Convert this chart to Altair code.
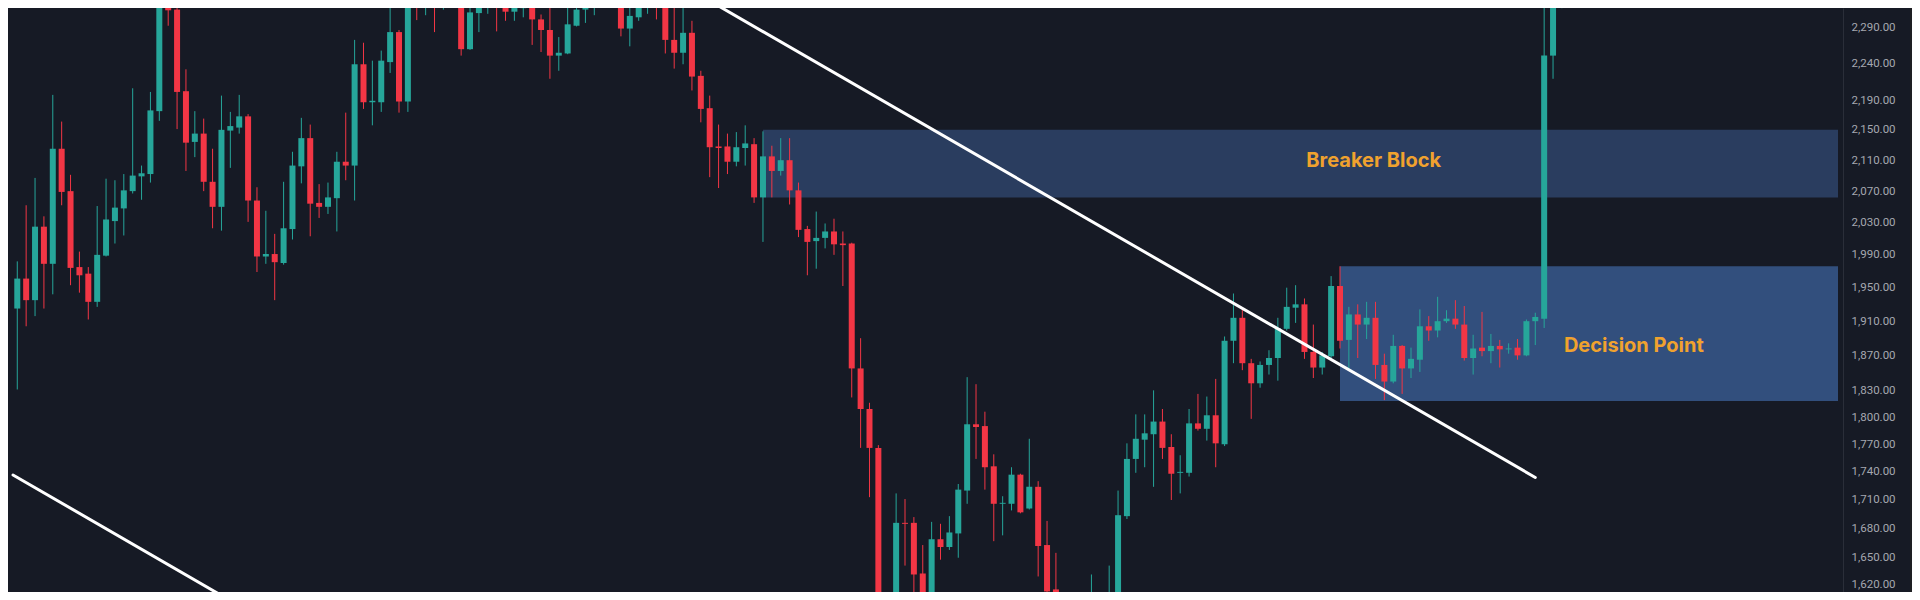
import altair as alt
import pandas as pd

# ---- candle data ----
opens = [1925, 1961, 1935, 2025, 1979, 2125, 2070, 1975, 1967, 1933,
         1989, 2032, 2048, 2070, 2089, 2092, 2175, 2338, 2316, 2202,
         2134, 2145, 2082, 2050, 2149, 2153, 2168, 2058, 1988, 1991,
         1980, 2022, 2102, 2139, 2055, 2050, 2061, 2108, 2103, 2239,
         2187, 2187, 2242, 2284, 2188, 2345, 2320, 2350, 2335, 2355,
         2345, 2260, 2311, 2325, 2338, 2328, 2313, 2318, 2335, 2302,
         2287, 2251, 2254, 2293, 2316, 2320, 2335, 2350, 2340, 2289,
         2305, 2324, 2350, 2336, 2273, 2255, 2283, 2223, 2179, 2128,
         2128, 2108, 2126, 2131, 2062, 2115, 2096, 2110, 2071, 2022,
         2007, 2011, 2019, 2004, 2004, 1855, 1809, 1766, 1595, 1600,
         1686, 1686, 1634, 1615, 1669, 1661, 1675, 1720, 1792, 1790,
         1746, 1706, 1706, 1737, 1701, 1724, 1663, 1618, 1590, 1580,
         1595, 1590, 1611, 1598, 1600, 1693, 1754, 1775, 1781, 1795,
         1767, 1739, 1739, 1793, 1787, 1802, 1770, 1887, 1914, 1861,
         1838, 1859, 1867, 1901, 1926, 1930, 1874, 1856, 1869, 1952,
         1888, 1918, 1906, 1914, 1859, 1840, 1881, 1855, 1865, 1904,
         1899, 1910, 1913, 1906, 1867, 1879, 1875, 1881, 1877, 1879,
         1870, 1910, 1913, 2251, 2325]
highs = [1982, 2052, 2087, 2038, 2197, 2161, 2091, 1994, 1975, 2051,
         2086, 2084, 2092, 2206, 2103, 2201, 2350, 2348, 2332, 2232,
         2175, 2165, 2125, 2196, 2174, 2197, 2171, 2075, 2045, 2016,
         2082, 2121, 2166, 2157, 2079, 2081, 2121, 2173, 2273, 2269,
         2244, 2258, 2335, 2287, 2355, 2350, 2350, 2360, 2365, 2370,
         2350, 2332, 2338, 2345, 2345, 2335, 2323, 2342, 2340, 2309,
         2331, 2277, 2324, 2332, 2333, 2345, 2360, 2362, 2350, 2320,
         2331, 2345, 2358, 2342, 2323, 2319, 2300, 2230, 2196, 2157,
         2145, 2147, 2156, 2139, 2148, 2129, 2139, 2139, 2081, 2026,
         2044, 2029, 2035, 2019, 2005, 1890, 1816, 1769, 1604, 1717,
         1711, 1692, 1663, 1687, 1685, 1693, 1727, 1845, 1837, 1806,
         1759, 1714, 1745, 1738, 1776, 1730, 1688, 1655, 1600, 1603,
         1604, 1633, 1612, 1642, 1720, 1771, 1803, 1803, 1830, 1809,
         1781, 1758, 1809, 1826, 1823, 1843, 1892, 1943, 1924, 1866,
         1863, 1876, 1914, 1950, 1953, 1937, 1906, 1874, 1964, 1976,
         1927, 1930, 1933, 1933, 1872, 1894, 1882, 1879, 1924, 1916,
         1939, 1923, 1935, 1928, 1894, 1921, 1895, 1888, 1884, 1889,
         1912, 1920, 2340, 2335, 2345]
lows = [1831, 1904, 1916, 1925, 1942, 2052, 1953, 1944, 1912, 1927,
        1988, 2004, 2014, 2067, 2059, 2081, 2162, 2293, 2151, 2096,
        2114, 2070, 2023, 2020, 2100, 2145, 2031, 1969, 1979, 1935,
        1978, 2009, 2080, 2013, 2036, 2041, 2019, 2084, 2058, 2178,
        2156, 2174, 2227, 2173, 2174, 2301, 2308, 2284, 2316, 2335,
        2251, 2259, 2284, 2310, 2285, 2300, 2300, 2305, 2266, 2256,
        2219, 2230, 2253, 2292, 2297, 2308, 2332, 2333, 2278, 2264,
        2300, 2310, 2302, 2254, 2233, 2239, 2203, 2160, 2088, 2074,
        2092, 2102, 2103, 2055, 2006, 2062, 2090, 2053, 2012, 1965,
        1973, 1998, 1990, 1952, 1822, 1766, 1713, 1580, 1575, 1585,
        1642, 1605, 1598, 1598, 1648, 1658, 1650, 1706, 1754, 1721,
        1667, 1673, 1699, 1696, 1700, 1631, 1598, 1575, 1565, 1570,
        1578, 1580, 1595, 1585, 1590, 1690, 1739, 1745, 1724, 1754,
        1710, 1717, 1735, 1785, 1774, 1745, 1768, 1861, 1853, 1798,
        1833, 1848, 1841, 1899, 1908, 1866, 1844, 1848, 1867, 1878,
        1855, 1867, 1889, 1843, 1819, 1838, 1826, 1844, 1851, 1887,
        1891, 1908, 1901, 1864, 1848, 1869, 1861, 1856, 1872, 1865,
        1869, 1882, 1902, 2219, 2318]
closes = [1961, 1935, 2025, 1979, 2125, 2069, 1974, 1965, 1933, 1990,
          2034, 2049, 2071, 2090, 2093, 2176, 2340, 2315, 2201, 2133,
          2145, 2082, 2050, 2150, 2155, 2168, 2058, 1988, 1991, 1981,
          2023, 2103, 2139, 2054, 2050, 2062, 2108, 2103, 2239, 2187,
          2189, 2244, 2284, 2188, 2345, 2320, 2340, 2335, 2355, 2345,
          2260, 2312, 2326, 2338, 2327, 2313, 2319, 2335, 2302, 2287,
          2251, 2255, 2295, 2316, 2321, 2335, 2350, 2340, 2289, 2307,
          2325, 2338, 2336, 2273, 2255, 2283, 2222, 2178, 2127, 2126,
          2108, 2127, 2132, 2062, 2115, 2096, 2110, 2071, 2021, 2006,
          2011, 2019, 2003, 2002, 1855, 1809, 1766, 1595, 1590, 1686,
          1685, 1633, 1615, 1669, 1661, 1676, 1721, 1792, 1789, 1745,
          1706, 1707, 1737, 1697, 1724, 1662, 1616, 1590, 1580, 1595,
          1588, 1602, 1606, 1604, 1694, 1754, 1776, 1782, 1795, 1766,
          1738, 1740, 1793, 1787, 1802, 1771, 1887, 1914, 1861, 1838,
          1859, 1867, 1902, 1927, 1930, 1874, 1856, 1870, 1952, 1887,
          1918, 1906, 1914, 1859, 1840, 1881, 1855, 1866, 1904, 1899,
          1910, 1913, 1906, 1867, 1878, 1875, 1881, 1877, 1878, 1870,
          1910, 1915, 2251, 2325, 2338]

# y-axis tick labels
tick_values = [1620, 1650, 1680, 1710, 1740, 1770, 1800, 1830, 1870, 1910,
               1950, 1990, 2030, 2070, 2110, 2150, 2190, 2240, 2290]

# zones
zone_names = ["Breaker Block", "Decision Point"]
zone_start = [84, 149]
zone_end = [205.1, 205.1]
zone_top = [2150, 1976]
zone_bottom = [2062, 1818]
zone_colors = ["#2a3d5f", "#324f7d"]
label_i = [152.8, 182.1]
label_price = [2101, 1874]

# trend lines (two anchor points each)
line_id = ["upper", "upper", "lower", "lower"]
line_i = [77.85, 171.0, -0.48, 25.52]
line_price = [2329.7, 1734.0, 1736.7, 1599.1]

candles = pd.DataFrame({"i": list(range(len(opens))), "o": opens, "h": highs,
                        "l": lows, "c": closes})
zones = pd.DataFrame({"name": zone_names, "x1": zone_start, "x2": zone_end,
                      "top": zone_top, "bot": zone_bottom,
                      "li": label_i, "lp": label_price})
lines = pd.DataFrame({"id": line_id, "i": line_i, "p": line_price})

W, H = 1835, 584
RIGHT = 69
BG = "#161a25"
GREEN = "#26a69a"
RED = "#f23645"

xs = alt.Scale(domain=[-0.482, 205.1], nice=False, zero=False)
ys = alt.Scale(type="log", domain=[1615.4, 2318.3], nice=False, zero=False)
yaxis = alt.Axis(orient="right", values=tick_values, format=",.2f", ticks=False,
                 labelPadding=8, labelFont="Roboto", labelFontSize=11.5,
                 labelColor="#a5a8b0", domain=True, domainColor="#2a2e39",
                 domainWidth=1, grid=False, title=None, labelFlush=False,
                 labelOverlap=False,
                 labelOffset=alt.condition("datum.value <= 1620", alt.value(-3),
                                           alt.value(0)))

color = alt.condition("datum.c >= datum.o", alt.value(GREEN), alt.value(RED))

boxes = alt.Chart(zones).mark_rect(clip=True).encode(
    x=alt.X("x1:Q", scale=xs, axis=None),
    x2="x2:Q",
    y=alt.Y("top:Q", scale=ys, axis=yaxis),
    y2="bot:Q",
    color=alt.Color("name:N", scale=alt.Scale(domain=zone_names, range=zone_colors),
                    legend=None),
)

wicks = alt.Chart(candles).mark_rule(strokeWidth=1, clip=True).encode(
    x=alt.X("i:Q", scale=xs, axis=None),
    y=alt.Y("l:Q", scale=ys, axis=yaxis),
    y2="h:Q",
    color=color,
)

bodies = alt.Chart(candles).mark_bar(size=6, clip=True).encode(
    x=alt.X("i:Q", scale=xs, axis=None),
    y=alt.Y("o:Q", scale=ys, axis=yaxis),
    y2="c:Q",
    color=color,
)

trend = alt.Chart(lines).mark_line(color="#ffffff", strokeWidth=3, strokeCap="round",
                                   clip=True).encode(
    x=alt.X("i:Q", scale=xs, axis=None),
    y=alt.Y("p:Q", scale=ys, axis=yaxis),
    detail="id:N",
)

labels = alt.Chart(zones).mark_text(font="Inter", fontSize=20, fontWeight="bold",
                                    color="#f0a22e", align="center",
                                    baseline="alphabetic").encode(
    x=alt.X("li:Q", scale=xs, axis=None),
    y=alt.Y("lp:Q", scale=ys, axis=yaxis),
    text="name:N",
)

strip = alt.Chart(pd.DataFrame({"k": [0]})).mark_rect(color="#1e1f23").encode(
    x=alt.value(W + 67), x2=alt.value(W + RIGHT), y=alt.value(0), y2=alt.value(H),
)

chart = alt.layer(boxes, wicks, bodies, trend, labels, strip).properties(
    width=W, height=H,
    padding={"left": 0, "top": 0, "right": RIGHT, "bottom": 0},
    autosize=alt.AutoSizeParams(type="none"),
    background=BG,
).configure_view(strokeWidth=0)

chart.save("out.html", embed_options={"renderer": "svg", "actions": False})
